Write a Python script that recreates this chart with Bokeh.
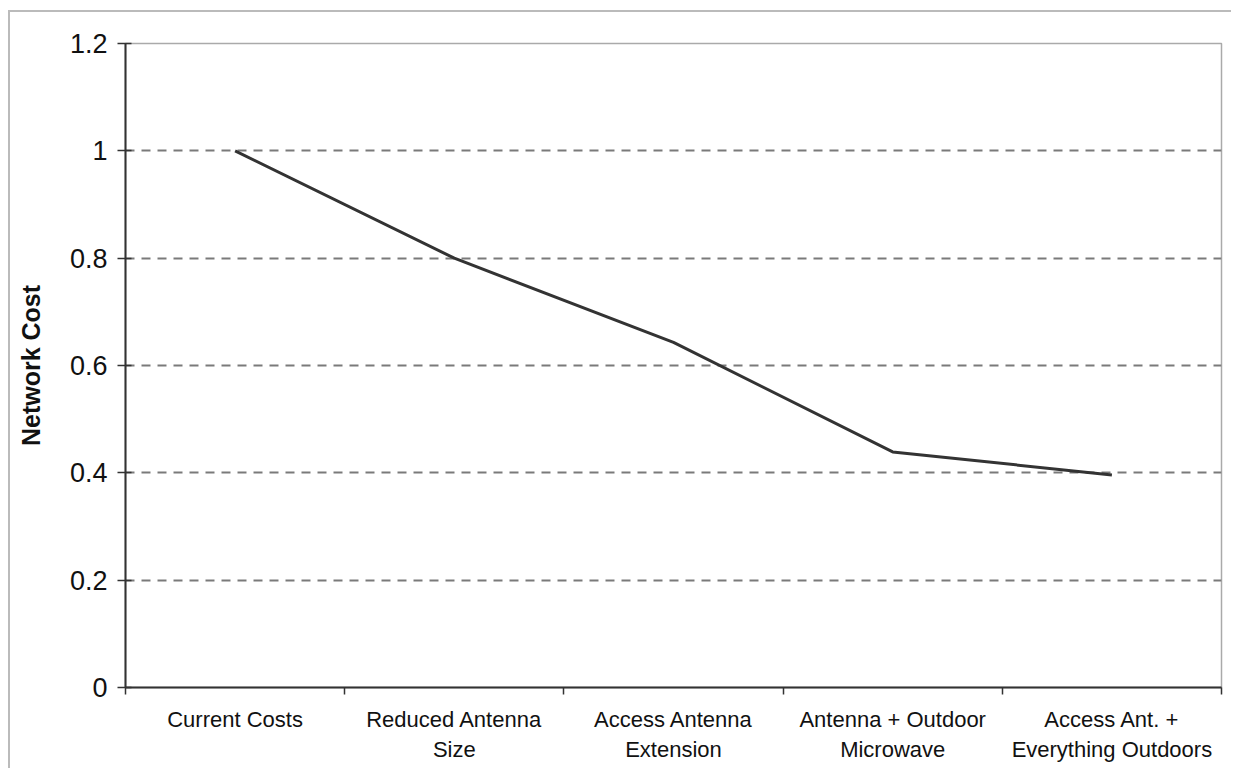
from bokeh.plotting import figure
from bokeh.models import Range1d, FixedTicker, ColumnDataSource, NumeralTickFormatter
from bokeh.embed import file_html
from bokeh.resources import INLINE

# Network cost scenarios, normalised to current costs
categories = [
    "Current Costs",
    "Reduced Antenna\nSize",
    "Access Antenna\nExtension",
    "Antenna + Outdoor\nMicrowave",
    "Access Ant. +\nEverything Outdoors",
]
network_cost = [1.0, 0.80, 0.643, 0.439, 0.396]
y_ticks = [0, 0.2, 0.4, 0.6, 0.8, 1.0, 1.2]

centers = [i + 0.5 for i in range(len(categories))]
boundaries = list(range(len(categories) + 1))

src = ColumnDataSource(dict(x=centers, y=network_cost))

p = figure(
    width=1223, height=758,
    output_backend="svg", toolbar_location=None,
    x_range=Range1d(0, len(categories)),
    y_range=Range1d(0, 1.2),
    min_border_left=115, min_border_right=12,
    min_border_top=31, min_border_bottom=83,
    background_fill_color="white", border_fill_color="white",
)
# light frame along the top and left of the chart
p.styles = {
    "margin-left": "8px",
    "margin-top": "10px",
    "border-left": "2px solid #bbbbbb",
    "border-top": "2px solid #bbbbbb",
    "border-right": "none",
    "border-bottom": "none",
}

FONT = "Liberation Sans"
TEXT = "#111111"

p.outline_line_color = "#aaaaaa"
p.outline_line_width = 1.5

# y axis
p.yaxis.ticker = FixedTicker(ticks=y_ticks)
p.yaxis.formatter = NumeralTickFormatter(format="0.[0]")
p.yaxis.axis_label = "Network Cost"
p.yaxis.axis_label_text_font = FONT
p.yaxis.axis_label_text_font_style = "bold"
p.yaxis.axis_label_text_font_size = "25px"
p.yaxis.axis_label_text_color = TEXT
p.yaxis.axis_label_standoff = 22
p.yaxis.major_label_text_font = FONT
p.yaxis.major_label_text_font_size = "27px"
p.yaxis.major_label_text_color = TEXT
p.yaxis.major_label_standoff = 10
p.yaxis.major_tick_in = 6
p.yaxis.major_tick_out = 8
p.yaxis.major_tick_line_color = "#333333"
p.yaxis.major_tick_line_width = 1.5
p.yaxis.minor_tick_line_color = None
p.yaxis.axis_line_color = "#333333"
p.yaxis.axis_line_width = 2

# x axis: labels at category centres, tick marks at category boundaries
p.xaxis.ticker = FixedTicker(ticks=centers, minor_ticks=boundaries)
p.xaxis.major_label_overrides = {c: lab for c, lab in zip(centers, categories)}
p.xaxis.major_label_text_font = FONT
p.xaxis.major_label_text_font_size = "22px"
p.xaxis.major_label_text_color = TEXT
p.xaxis.major_label_standoff = 12
p.xaxis.major_tick_in = 0
p.xaxis.major_tick_out = 0
p.xaxis.minor_tick_in = 0
p.xaxis.minor_tick_out = 7
p.xaxis.minor_tick_line_color = "#333333"
p.xaxis.minor_tick_line_width = 1.5
p.xaxis.axis_line_color = "#333333"
p.xaxis.axis_line_width = 2

# grid
p.xgrid.visible = False
p.ygrid.ticker = FixedTicker(ticks=y_ticks[1:])
p.ygrid.grid_line_color = "#7a7a7a"
p.ygrid.grid_line_width = 2
p.ygrid.grid_line_dash = "9 7"

p.line("x", "y", source=src, line_color="#333333", line_width=3)

open("out.html", "w").write(file_html(p, INLINE))
